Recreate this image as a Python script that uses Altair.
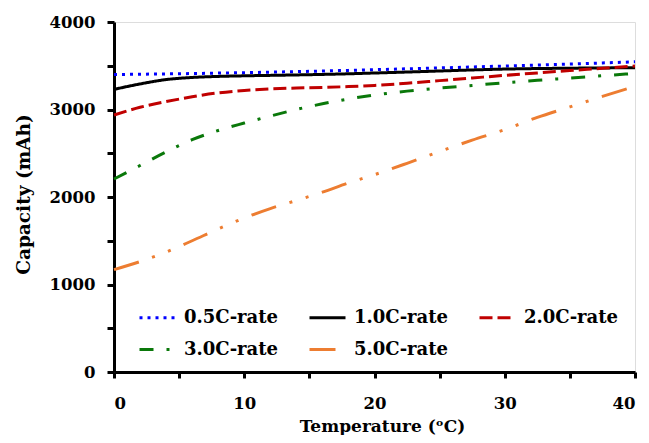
import altair as alt
import pandas as pd

# Temperatures (°C) at which each curve was read
temps = [0, 2, 4, 6, 8, 10, 12, 14, 16, 18, 20, 22.5, 25, 27.5, 30, 32.5, 35, 37.5, 40]

cap_05 = [3400, 3403, 3407, 3411, 3416, 3421, 3427, 3433, 3440, 3447, 3455,
          3465, 3475, 3486, 3497, 3508, 3520, 3532, 3545]
cap_10 = [3230, 3292, 3342, 3366, 3378, 3385, 3390, 3395, 3401, 3408, 3417,
          3428, 3440, 3452, 3462, 3468, 3472, 3475, 3478]
cap_20 = [2937, 3025, 3090, 3145, 3190, 3218, 3235, 3245, 3252, 3262, 3275,
          3300, 3330, 3360, 3390, 3418, 3445, 3471, 3497]
cap_30 = [2206, 2360, 2515, 2655, 2760, 2845, 2925, 3000, 3065, 3120, 3165,
          3210, 3245, 3275, 3305, 3333, 3360, 3386, 3412]
cap_50 = [1170, 1262, 1370, 1500, 1635, 1760, 1868, 1960, 2055, 2160, 2255,
          2385, 2520, 2650, 2770, 2910, 3030, 3150, 3265]

series_names = ["0.5C-rate", "1.0C-rate", "2.0C-rate", "3.0C-rate", "5.0C-rate"]
series_values = [cap_05, cap_10, cap_20, cap_30, cap_50]
series_colors = ["#0000FF", "#000000", "#C00000", "#0A780A", "#ED7D31"]
series_dashes = [[3, 5], [1, 0], [13, 5], [14, 13, 3, 13], [26, 14, 3, 14, 3, 14]]

x_ticks = [0, 5, 10, 15, 20, 25, 30, 35, 40]
y_ticks = [0, 500, 1000, 1500, 2000, 2500, 3000, 3500, 4000]

rows = []
for name, vals in zip(series_names, series_values):
    for t, v in zip(temps, vals):
        rows.append({"Temperature": t, "Capacity": v, "Series": name})
df = pd.DataFrame(rows)

FONT = "DejaVu Serif"

legend = alt.Legend(
    title=None,
    orient="none",
    direction="horizontal",
    legendX=24,
    legendY=276,
    columns=3,
    columnPadding=24,
    rowPadding=3,
    padding=0,
    symbolType="stroke",
    symbolSize=1296,
    symbolStrokeWidth=3,
    labelFont=FONT,
    labelFontWeight="bold",
    labelFontSize=18,
    labelColor="black",
    labelOffset=7,
    gridAlign="all",
)

chart = (
    alt.Chart(df)
    .mark_line(strokeWidth=3, interpolate="monotone")
    .encode(
        x=alt.X(
            "Temperature:Q",
            scale=alt.Scale(domain=[0, 40], nice=False),
            axis=alt.Axis(
                title="Temperature (ᵒC)",
                values=x_ticks,
                labelExpr="datum.value % 10 == 0 ? datum.label : ''",
                grid=False,
                domainColor="black",
                domainWidth=3,
                tickColor="black",
                tickWidth=3,
                tickSize=6,
                labelPadding=17,
                labelFont=FONT,
                labelFontWeight="bold",
                labelFontSize=16.5,
                labelColor="black",
                titleFont=FONT,
                titleFontWeight="bold",
                titleFontSize=17,
                titleColor="black",
                titleBaseline="alphabetic",
                titleY=59,
                titleX=268,
            ),
        ),
        y=alt.Y(
            "Capacity:Q",
            scale=alt.Scale(domain=[0, 4000], nice=False),
            axis=alt.Axis(
                title="Capacity (mAh)",
                values=y_ticks,
                labelExpr="datum.value % 1000 == 0 ? datum.label : ''",
                format="d",
                grid=False,
                domainColor="black",
                domainWidth=3,
                tickColor="black",
                tickWidth=3,
                tickSize=7,
                labelPadding=12,
                labelFont=FONT,
                labelFontWeight="bold",
                labelFontSize=16.5,
                labelColor="black",
                titleFont=FONT,
                titleFontWeight="bold",
                titleFontSize=18.5,
                titleColor="black",
                titleBaseline="alphabetic",
                titleAngle=270,
                titleX=-85,
                titleY=172,
            ),
        ),
        color=alt.Color(
            "Series:N",
            scale=alt.Scale(domain=series_names, range=series_colors),
            legend=legend,
        ),
        strokeDash=alt.StrokeDash(
            "Series:N",
            scale=alt.Scale(domain=series_names, range=series_dashes),
            legend=legend,
        ),
    )
    .properties(
        width=521,
        height=350,
        autosize=alt.AutoSizeParams(type="none"),
        padding={"left": 106, "top": 14, "right": 6, "bottom": 63},
    )
    .configure_view(stroke="black", strokeWidth=3)
    .configure(background="white")
)

chart.save("out.html", embed_options={"renderer": "svg", "actions": False})
